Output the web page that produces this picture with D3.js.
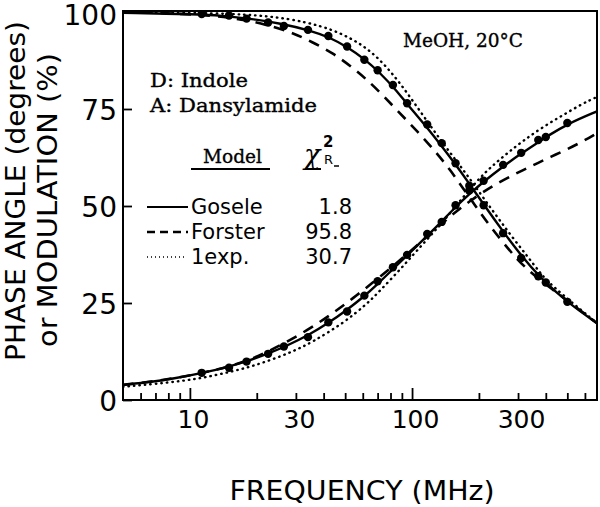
<!DOCTYPE html>
<html><head><meta charset="utf-8">
<script src="https://cdn.jsdelivr.net/npm/d3@7"></script>
<style>body{margin:0;background:#fff} svg{display:block}</style>
</head><body>
<svg id="c" width="600" height="507"></svg>
<script>
// ---- data ----
const dataFreq  = [11.3, 15, 18, 22.5, 26.5, 34, 42, 51, 61, 70, 82, 95, 117, 136, 157, 181, 210, 257, 310, 370, 400, 500];
const dataMod   = [99.5, 99.1, 98.3, 97.3, 96.4, 95.4, 93.8, 91.1, 87.7, 85.0, 81.2, 76.5, 71.0, 66.2, 61.0, 55.2, 50.2, 43.0, 36.6, 31.9, 30.3, 25.3];
const dataPhase = [7.0, 8.3, 9.9, 11.9, 13.8, 16.2, 20.0, 22.8, 26.9, 30.6, 34.2, 37.4, 42.8, 45.9, 50.2, 54.0, 56.5, 60.6, 63.7, 67.0, 67.8, 71.4];

const goseleModF   = [5, 11, 13.6, 19.2, 25.4, 34.7, 42.8, 51.5, 61.4, 71.8, 84.7, 94.9, 118, 153, 183, 213, 257, 306, 377, 499, 680];
const goseleModV   = [99.8, 99.4, 99.1, 98.2, 97.1, 95.3, 93.4, 90.9, 87.8, 84.3, 79.9, 76.3, 70.0, 61.6, 55.4, 49.9, 43.4, 37.6, 31.5, 25.2, 19.8];
const forsterModF  = [5, 11, 18.6, 24, 29.1, 35.4, 44.1, 54.2, 62.8, 73.5, 85.8, 105.5, 129.8, 148.5, 168, 192, 224, 276, 316, 390, 451, 680];
const forsterModV  = [100, 99.5, 97.9, 96.1, 94.6, 92.3, 89.4, 85.6, 82.5, 78.7, 74.6, 69.3, 63.5, 59.3, 54.9, 50.2, 44.8, 38.4, 34.6, 30.2, 27.6, 19.8];
const oneExpModF   = [5, 13.6, 22.9, 33.6, 44.1, 54.2, 62.8, 74.1, 88.3, 105.5, 124.6, 148.5, 170, 188, 213, 244, 284, 333, 377, 418, 680];
const oneExpModV   = [100, 99.7, 99.0, 97.4, 95.4, 92.9, 90.6, 86.9, 81.7, 75.5, 69.6, 63.7, 59.3, 55.9, 51.5, 46.9, 41.8, 36.8, 32.8, 29.8, 19.8];

const goselePhF    = [5, 6.8, 8.4, 11.3, 14.6, 18.1, 22.9, 27.4, 34.7, 41.4, 50.9, 61.4, 69.4, 80.3, 94, 117, 136, 156, 183, 209, 257, 313, 369, 404, 502, 680];
const goselePhV    = [3.9, 4.7, 5.5, 6.9, 8.4, 10.0, 12.1, 14.0, 16.9, 19.6, 23.2, 26.9, 29.7, 33.2, 37.0, 42.3, 46.0, 49.6, 53.3, 56.2, 60.2, 63.7, 66.4, 67.9, 71.2, 74.4];
const forsterPhF   = [5, 8.4, 13.6, 18.6, 22.9, 28.2, 35.4, 44.1, 54.2, 66.7, 79.4, 97.8, 120, 148.5, 183, 232, 316, 419, 571, 680];
const forsterPhV   = [3.9, 5.4, 7.9, 10.3, 12.7, 15.4, 18.7, 22.4, 26.2, 30.3, 33.8, 38.2, 42.7, 47.4, 51.4, 55.4, 59.3, 62.6, 66.2, 68.8];
const oneExpPhF    = [5, 9.7, 13.6, 18.1, 22.9, 29.1, 35.8, 49, 62.8, 71.8, 88.3, 105.5, 133.6, 160, 196, 224, 268, 316, 389, 480, 590, 680];
const oneExpPhV    = [3.4, 4.9, 6.6, 8.3, 10.2, 12.5, 15.0, 19.8, 24.8, 28.2, 33.6, 38.6, 45.0, 50.5, 56.5, 59.8, 63.6, 66.8, 70.4, 73.5, 76.5, 78.1];

const majorTicks = [10, 100];
const minorTicks = [6, 7, 8, 9, 20, 30, 40, 50, 60, 70, 80, 90, 200, 300, 400, 500, 600];
const xTickLabels = [10, 30, 100, 300];
const yTickValues = [0, 25, 50, 75, 100];

const legendModels = ["Gosele", "Forster", "1exp."];
const legendChi = ["1.8", "95.8", "30.7"];

// ---- drawing ----
const svg = d3.select("#c");
const x = d3.scaleLog().domain([5, 680]).range([123, 597]);
const y = d3.scaleLinear().domain([0, 100]).range([400, 12]);
const sans = "'DejaVu Sans', sans-serif";
const serif = "'DejaVu Serif', serif";

svg.append("defs").append("clipPath").attr("id", "clip")
  .append("rect").attr("x", 123).attr("y", 11).attr("width", 474).attr("height", 390);

const zip = (a, b) => a.map((d, i) => [d, b[i]]);
const line = d3.line().x(d => x(d[0])).y(d => y(d[1])).curve(d3.curveBasis);
const plot = svg.append("g").attr("clip-path", "url(#clip)");

function drawCurve(F, V, style) {
  const p = plot.append("path").datum(zip(F, V)).attr("d", line)
    .attr("fill", "none").attr("stroke", "#000");
  if (style === "solid") p.attr("stroke-width", 2.4);
  if (style === "dash") p.attr("stroke-width", 2.6).attr("stroke-dasharray", "11,8");
  if (style === "dot") p.attr("stroke-width", 2.4).attr("stroke-dasharray", "0.5,5").attr("stroke-linecap", "round");
}
drawCurve(goseleModF, goseleModV, "solid");
drawCurve(forsterModF, forsterModV, "dash");
drawCurve(oneExpModF, oneExpModV, "dot");
drawCurve(goselePhF, goselePhV, "solid");
drawCurve(forsterPhF, forsterPhV, "dash");
drawCurve(oneExpPhF, oneExpPhV, "dot");

plot.selectAll("circle.m").data(zip(dataFreq, dataMod)).join("circle").attr("class", "m")
  .attr("cx", d => x(d[0])).attr("cy", d => y(d[1])).attr("r", 4.2).attr("fill", "#000");
plot.selectAll("circle.p").data(zip(dataFreq, dataPhase)).join("circle").attr("class", "p")
  .attr("cx", d => x(d[0])).attr("cy", d => y(d[1])).attr("r", 4.2).attr("fill", "#000");

// frame
svg.append("rect").attr("x", 123).attr("y", 11).attr("width", 474).attr("height", 389)
  .attr("fill", "none").attr("stroke", "#000").attr("stroke-width", 2);

// x axis ticks (inward)
const xAxisMinor = d3.axisBottom(x).tickValues(minorTicks).tickSize(-7).tickFormat("");
const xAxisMajor = d3.axisBottom(x).tickValues(majorTicks).tickSize(-12).tickFormat("");
[xAxisMinor, xAxisMajor].forEach(ax => {
  const g = svg.append("g").attr("transform", "translate(0,400)").call(ax);
  g.select(".domain").remove();
  g.selectAll("line").attr("stroke-width", 1.8);
});
const xLab = d3.axisBottom(x).tickValues(xTickLabels).tickSize(0).tickPadding(10).tickFormat(d3.format("d"));
const gxl = svg.append("g").attr("transform", "translate(0,400)").call(xLab);
gxl.select(".domain").remove();
gxl.selectAll("text").attr("font-family", sans).attr("font-size", 25).attr("fill", "#000").attr("dx", 3);

// y axis
const yAx = d3.axisLeft(y).tickValues(yTickValues).tickSize(-9).tickPadding(18);
const gy = svg.append("g").attr("transform", "translate(123,0)").call(yAx);
gy.select(".domain").remove();
gy.selectAll("line").attr("stroke-width", 1.8);
gy.selectAll("text").attr("font-family", sans).attr("font-size", 28).attr("fill", "#000").attr("x", -6)
  .attr("dy", d => d === 100 ? "0.44em" : "0.36em");

// axis titles
svg.append("text").attr("x", 362).attr("y", 500).attr("text-anchor", "middle")
  .attr("font-family", sans).attr("font-size", 27).attr("textLength", 265).attr("lengthAdjust", "spacingAndGlyphs")
  .text("FREQUENCY (MHz)");
svg.append("text").attr("transform", "translate(25,191) rotate(-90)").attr("text-anchor", "middle")
  .attr("font-family", sans).attr("font-size", 27).attr("textLength", 340).attr("lengthAdjust", "spacingAndGlyphs")
  .text("PHASE ANGLE (degrees)");
svg.append("text").attr("transform", "translate(57,200) rotate(-90)").attr("text-anchor", "middle")
  .attr("font-family", sans).attr("font-size", 27).attr("textLength", 294).attr("lengthAdjust", "spacingAndGlyphs")
  .text("or MODULATION (%)");

// annotations
const ann = (t, xx, yy, len) => svg.append("text").attr("x", xx).attr("y", yy)
  .attr("font-family", serif).attr("font-size", 19).attr("fill", "#000")
  .attr("stroke", "#000").attr("stroke-width", 0.35)
  .attr("textLength", len).attr("lengthAdjust", "spacingAndGlyphs").text(t);
ann("MeOH, 20\u00B0C", 403, 47, 120);
ann("D: Indole", 150, 87, 98);
ann("A: Dansylamide", 150, 112, 167);
ann("Model", 203, 163, 59);
svg.append("line").attr("x1", 191).attr("x2", 270).attr("y1", 169).attr("y2", 169).attr("stroke", "#000").attr("stroke-width", 2);

svg.append("text").attr("x", 304).attr("y", 164).attr("font-family", serif).attr("font-style", "italic").attr("font-size", 27).text("\u03C7");
svg.append("text").attr("x", 323).attr("y", 147).attr("font-family", sans).attr("font-size", 15).attr("font-weight", "bold").text("2");
svg.append("text").attr("x", 324).attr("y", 164).attr("font-family", sans).attr("font-size", 13).text("R");
svg.append("line").attr("x1", 305).attr("x2", 321).attr("y1", 169).attr("y2", 169).attr("stroke", "#000").attr("stroke-width", 2);
svg.append("line").attr("x1", 334).attr("x2", 339).attr("y1", 166).attr("y2", 166).attr("stroke", "#000").attr("stroke-width", 1.5);

// legend rows
const rowY = [207, 232, 257];
const styles = ["solid", "dash", "dot"];
legendModels.forEach((m, i) => {
  const l = svg.append("line").attr("x1", 147).attr("x2", 188).attr("y1", rowY[i]).attr("y2", rowY[i]).attr("stroke", "#000");
  if (styles[i] === "solid") l.attr("stroke-width", 2.2);
  if (styles[i] === "dash") l.attr("stroke-width", 2.4).attr("stroke-dasharray", "8,5");
  if (styles[i] === "dot") l.attr("stroke-width", 1.3).attr("stroke-dasharray", "1,3").attr("x2", 184);
  svg.append("text").attr("x", 191).attr("y", rowY[i] + 7).attr("font-family", sans).attr("font-size", 21).text(m);
  svg.append("text").attr("x", 352).attr("y", rowY[i] + 7).attr("text-anchor", "end").attr("font-family", sans).attr("font-size", 21).text(legendChi[i]);
});
</script>
</body></html>
